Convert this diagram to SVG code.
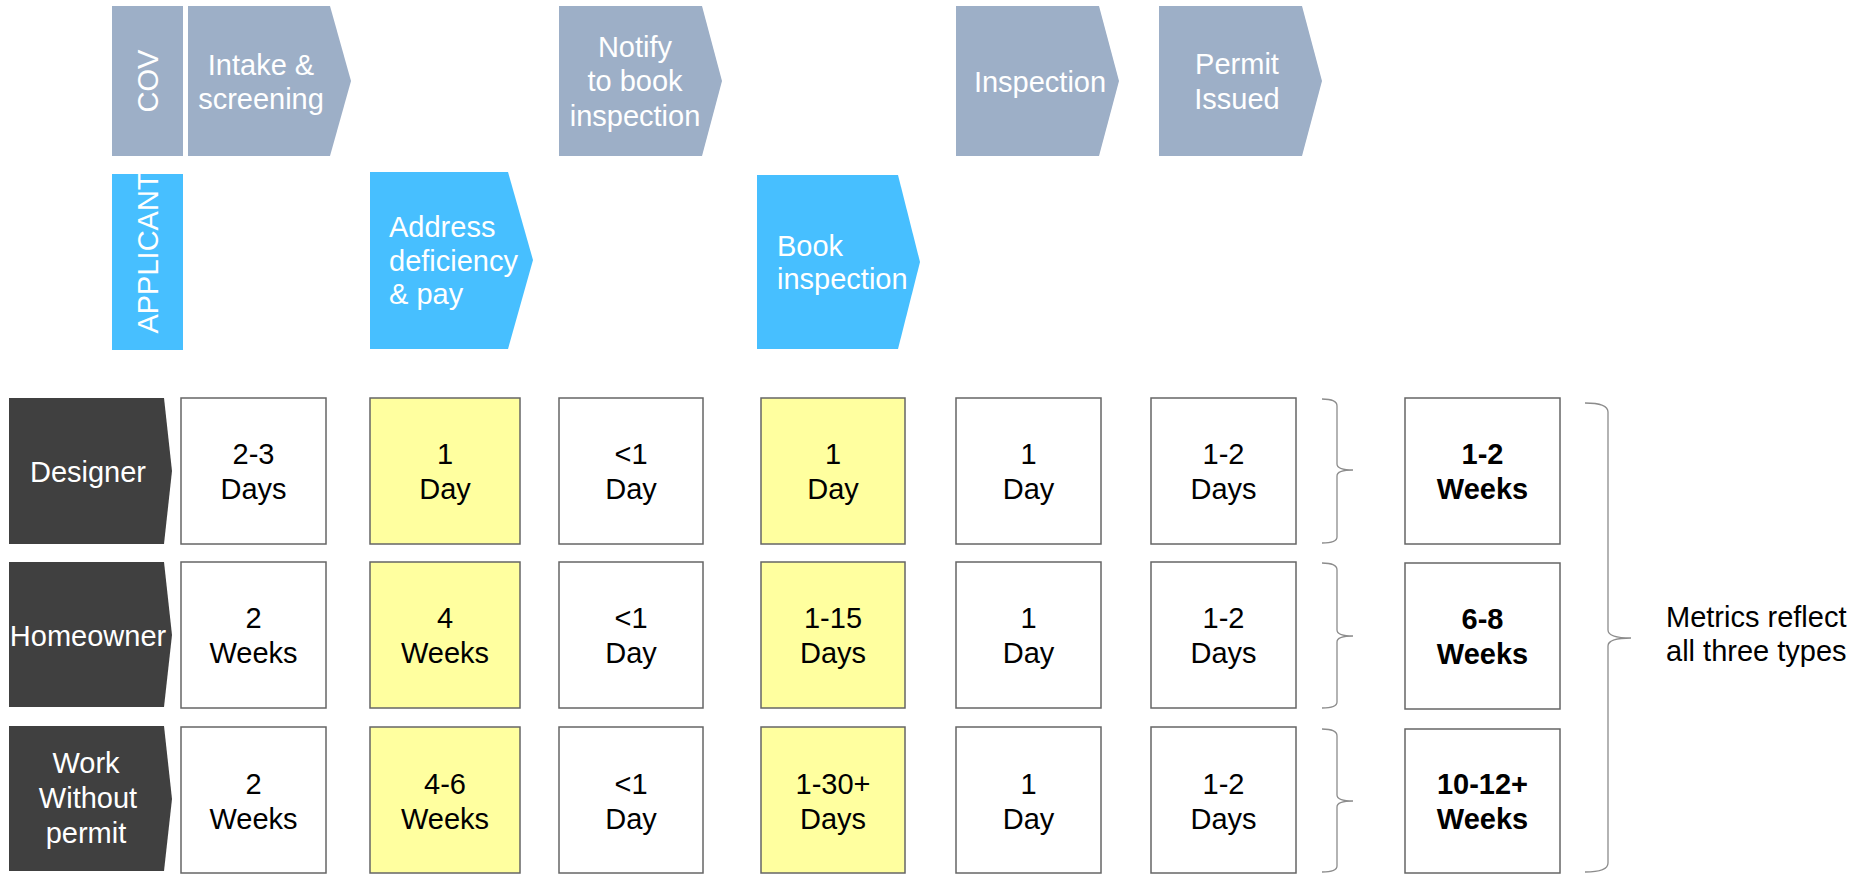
<svg xmlns="http://www.w3.org/2000/svg" width="1872" height="874" viewBox="0 0 1872 874">
<style>
text{font-family:"Liberation Sans",Arial,sans-serif;font-size:29px}
.w{fill:#ffffff}
.k{fill:#000000}
.c{text-anchor:middle}
.b{font-weight:bold}
.cov{fill:#9DAFC7}
.app{fill:#47BFFF}
.lbl{fill:#404040}
.box{fill:#ffffff;stroke:#666666;stroke-width:1.5}
.yel{fill:#FFFF9F;stroke:#666666;stroke-width:1.5}
.br{fill:none;stroke:#8c8c8c;stroke-width:1.3}
</style>
<g id="lane-cov">
<rect class="cov" x="112" y="6" width="71" height="150"/>
<text class="w c" transform="translate(158,81) rotate(-90)">COV</text>
</g>
<g id="lane-applicant">
<rect class="app" x="112" y="174" width="71" height="176"/>
<text class="w c" transform="translate(158,253) rotate(-90)">APPLICANT</text>
</g>
<g id="step-intake">
<polygon class="cov" points="188,6 330,6 351,81 330,156 188,156"/>
<text class="w c" x="261" y="75">Intake &amp;</text>
<text class="w c" x="261" y="109">screening</text>
</g>
<g id="step-notify">
<polygon class="cov" points="559,6 702,6 722,81 702,156 559,156"/>
<text class="w c" x="635" y="57">Notify</text>
<text class="w c" x="635" y="91">to book</text>
<text class="w c" x="635" y="126">inspection</text>
</g>
<g id="step-inspection">
<polygon class="cov" points="956,6 1099,6 1119,81 1099,156 956,156"/>
<text class="w c" x="1040" y="92">Inspection</text>
</g>
<g id="step-permit">
<polygon class="cov" points="1159,6 1302,6 1322,81 1302,156 1159,156"/>
<text class="w c" x="1237" y="74">Permit</text>
<text class="w c" x="1237" y="109">Issued</text>
</g>
<g id="step-address">
<polygon class="app" points="370,172 508,172 533,260 508,349 370,349"/>
<text class="w" x="389" y="237">Address</text>
<text class="w" x="389" y="271">deficiency</text>
<text class="w" x="389" y="304">&amp; pay</text>
</g>
<g id="step-book">
<polygon class="app" points="757,175 898,175 920,262 898,349 757,349"/>
<text class="w" x="777" y="256">Book</text>
<text class="w" x="777" y="289">inspection</text>
</g>
<g id="row-designer">
<polygon class="lbl" points="9,398 164,398 172,471 164,544 9,544"/>
<text class="w c" x="88" y="482">Designer</text>
</g>
<g id="row-homeowner">
<polygon class="lbl" points="9,562 164,562 172,635 164,707 9,707"/>
<text class="w c" x="88" y="646">Homeowner</text>
</g>
<g id="row-wwp">
<polygon class="lbl" points="9,726 164,726 172,799 164,871 9,871"/>
<text class="w c" x="86" y="773">Work</text>
<text class="w c" x="88" y="808">Without</text>
<text class="w c" x="86" y="843">permit</text>
</g>
<g id="designer-cells">
<rect class="box" x="181" y="398" width="145" height="146"/><text class="k c" x="253.5" y="464">2-3</text><text class="k c" x="253.5" y="499">Days</text>
<rect class="yel" x="370" y="398" width="150" height="146"/><text class="k c" x="445" y="464">1</text><text class="k c" x="445" y="499">Day</text>
<rect class="box" x="559" y="398" width="144" height="146"/><text class="k c" x="631" y="464">&lt;1</text><text class="k c" x="631" y="499">Day</text>
<rect class="yel" x="761" y="398" width="144" height="146"/><text class="k c" x="833" y="464">1</text><text class="k c" x="833" y="499">Day</text>
<rect class="box" x="956" y="398" width="145" height="146"/><text class="k c" x="1028.5" y="464">1</text><text class="k c" x="1028.5" y="499">Day</text>
<rect class="box" x="1151" y="398" width="145" height="146"/><text class="k c" x="1223.5" y="464">1-2</text><text class="k c" x="1223.5" y="499">Days</text>
<rect class="box" x="1405" y="398" width="155" height="146"/><text class="k c b" x="1482.5" y="464">1-2</text><text class="k c b" x="1482.5" y="499">Weeks</text>
</g>
<g id="homeowner-cells">
<rect class="box" x="181" y="562" width="145" height="146"/><text class="k c" x="253.5" y="628">2</text><text class="k c" x="253.5" y="663">Weeks</text>
<rect class="yel" x="370" y="562" width="150" height="146"/><text class="k c" x="445" y="628">4</text><text class="k c" x="445" y="663">Weeks</text>
<rect class="box" x="559" y="562" width="144" height="146"/><text class="k c" x="631" y="628">&lt;1</text><text class="k c" x="631" y="663">Day</text>
<rect class="yel" x="761" y="562" width="144" height="146"/><text class="k c" x="833" y="628">1-15</text><text class="k c" x="833" y="663">Days</text>
<rect class="box" x="956" y="562" width="145" height="146"/><text class="k c" x="1028.5" y="628">1</text><text class="k c" x="1028.5" y="663">Day</text>
<rect class="box" x="1151" y="562" width="145" height="146"/><text class="k c" x="1223.5" y="628">1-2</text><text class="k c" x="1223.5" y="663">Days</text>
<rect class="box" x="1405" y="563" width="155" height="146"/><text class="k c b" x="1482.5" y="629">6-8</text><text class="k c b" x="1482.5" y="664">Weeks</text>
</g>
<g id="wwp-cells">
<rect class="box" x="181" y="727" width="145" height="146"/><text class="k c" x="253.5" y="794">2</text><text class="k c" x="253.5" y="829">Weeks</text>
<rect class="yel" x="370" y="727" width="150" height="146"/><text class="k c" x="445" y="794">4-6</text><text class="k c" x="445" y="829">Weeks</text>
<rect class="box" x="559" y="727" width="144" height="146"/><text class="k c" x="631" y="794">&lt;1</text><text class="k c" x="631" y="829">Day</text>
<rect class="yel" x="761" y="727" width="144" height="146"/><text class="k c" x="833" y="794">1-30+</text><text class="k c" x="833" y="829">Days</text>
<rect class="box" x="956" y="727" width="145" height="146"/><text class="k c" x="1028.5" y="794">1</text><text class="k c" x="1028.5" y="829">Day</text>
<rect class="box" x="1151" y="727" width="145" height="146"/><text class="k c" x="1223.5" y="794">1-2</text><text class="k c" x="1223.5" y="829">Days</text>
<rect class="box" x="1405" y="729" width="155" height="144"/><text class="k c b" x="1482.5" y="794">10-12+</text><text class="k c b" x="1482.5" y="829">Weeks</text>
</g>
<g id="connectors">
<path class="br" d="M1322,399 Q1337,399 1337,406 L1337,464 Q1337,470 1353,470 Q1337,470 1337,476 L1337,537 Q1337,543 1322,543"/>
<path class="br" d="M1322,563 Q1337,563 1337,570 L1337,630 Q1337,636 1353,636 Q1337,636 1337,642 L1337,702 Q1337,708 1322,708"/>
<path class="br" d="M1322,729 Q1337,729 1337,736 L1337,795 Q1337,801 1353,801 Q1337,801 1337,807 L1337,866 Q1337,872 1322,872"/>
<path class="br" d="M1585,403 Q1608,403 1608,412 L1608,630 Q1608,638 1631,638 Q1608,638 1608,646 L1608,863 Q1608,872 1585,872"/>
</g>
<g id="note">
<text class="k" x="1666" y="627">Metrics reflect</text>
<text class="k" x="1666" y="661">all three types</text>
</g>
</svg>
